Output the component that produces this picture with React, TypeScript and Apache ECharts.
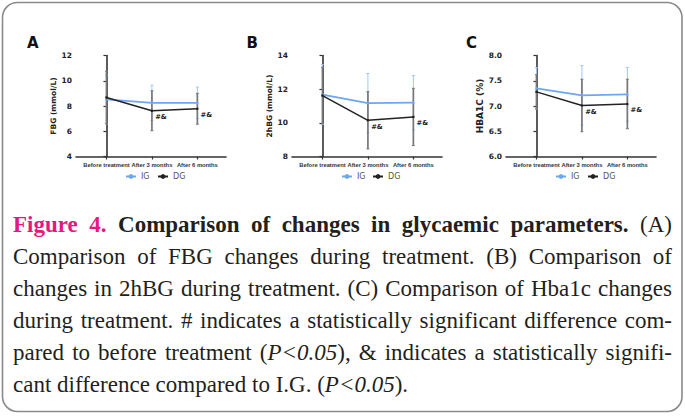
import React, { useEffect, useRef } from 'react';
import * as echarts from 'echarts';

// ---------- data ----------
const categories = ['Before treatment', 'After 3 months', 'After 6 months'];
const seriesNames = ['IG', 'DG'];
const panelLetters = ['A', 'B', 'C'];
const yNames = ['FBG (mmol/L)', '2hBG (mmol/L)', 'HBA1C (%)'];
const yMins = [4, 8, 6];
const yMaxs = [12, 14, 8];
const yIntervals = [2, 2, 0.5];
const yDecimals = [0, 0, 1];

// Panel A: FBG (mean, SD)
const fbgIG = [8.52, 8.25, 8.25];
const fbgIGsd = [1.93, 1.4, 1.24];
const fbgDG = [8.68, 7.62, 7.78];
const fbgDGsd = [2.08, 1.58, 1.22];

// Panel B: 2hBG
const hbgIG = [11.68, 11.17, 11.2];
const hbgIGsd = [1.77, 1.76, 1.61];
const hbgDG = [11.62, 10.15, 10.35];
const hbgDGsd = [1.68, 1.7, 1.7];

// Panel C: HbA1c
const hbaIG = [7.35, 7.21, 7.23];
const hbaIGsd = [0.41, 0.59, 0.53];
const hbaDG = [7.28, 7.01, 7.04];
const hbaDGsd = [0.34, 0.52, 0.49];

const sigMarks = ['', '#&', '#&'];

const captionLines: [string, string][][] = [
  [['Figure 4.', 'pink'], [' Comparison of changes in glycaemic parameters.', 'bold'], [' (A)', 'reg']],
  [['Comparison of FBG changes during treatment. (B) Comparison of', 'reg']],
  [['changes in 2hBG during treatment. (C) Comparison of Hba1c changes', 'reg']],
  [['during treatment. # indicates a statistically significant difference com-', 'reg']],
  [['pared to before treatment (', 'reg'], ['P<0.05', 'ital'], ['), & indicates a statistically signifi-', 'reg']],
  [['cant difference compared to I.G. (', 'reg'], ['P<0.05', 'ital'], [').', 'reg']],
];
const captionJustify = [true, true, true, true, true, false];

// ---------- layout / style ----------
const SANS = '"Liberation Sans", Arial, sans-serif';
const DEJA = '"DejaVu Sans", sans-serif';
const SERIF = '"Liberation Serif", "Times New Roman", serif';
const IG_COLOR = '#6ea7ee';
const IG_ERR = '#9fc5f2';
const DG_COLOR = '#222222';
const DG_ERR = '#777777';
const gridLefts = [76, 292, 506];
const gridTop = 55.5;
const gridHeight = 101;
const gridWidth = 150;
const legendLefts = [[125, 157], [341, 372], [555, 587]];
const letterX = [27, 246.5, 466];
const nameFont = [7.5, 7.5, 9];
const CAP_SIZE = 23;
const CAP_SCALE = 1.0;
const CAP_LEFT = 13;
const CAP_RIGHT = 672;
const CAP_BASE0 = 232;
const CAP_STEP = 32;

function capFont(s: string) {
  const bold = s === 'pink' || s === 'bold';
  const ital = s === 'ital';
  return { fontStyle: ital ? 'italic' : 'normal', fontWeight: bold ? 'bold' : 'normal' };
}

function buildCaption() {
  const ctx = document.createElement('canvas').getContext('2d')!;
  const measure = (t: string, s: string) => {
    const f = capFont(s);
    ctx.font = `${f.fontStyle} ${f.fontWeight} ${CAP_SIZE}px "Liberation Serif"`;
    return ctx.measureText(t).width * CAP_SCALE;
  };
  const els: any[] = [];
  captionLines.forEach((runs, li) => {
    const words: { t: string; s: string }[][] = [[]];
    runs.forEach(([t, s]) => {
      t.split(' ').forEach((p, k) => {
        if (k > 0) words.push([]);
        if (p) words[words.length - 1].push({ t: p, s });
      });
    });
    const ws = words.filter((w) => w.length > 0);
    const widths = ws.map((w) => w.reduce((a, p) => a + measure(p.t, p.s), 0));
    const total = widths.reduce((a, b) => a + b, 0);
    const gap = captionJustify[li] && ws.length > 1
      ? (CAP_RIGHT - CAP_LEFT - total) / (ws.length - 1)
      : measure(' ', 'reg');
    let x = CAP_LEFT;
    const y = CAP_BASE0 + li * CAP_STEP - 7.8;
    ws.forEach((w, wi) => {
      let px = x;
      w.forEach((p) => {
        const f = capFont(p.s);
        els.push({
          type: 'text',
          x: px,
          y,
          scaleX: CAP_SCALE,
          style: {
            text: p.t,
            fontFamily: SERIF,
            fontSize: CAP_SIZE,
            fontWeight: f.fontWeight,
            fontStyle: f.fontStyle,
            fill: p.s === 'pink' ? '#e8177f' : '#231f20',
            align: 'left',
            verticalAlign: 'middle',
          },
        });
        px += measure(p.t, p.s);
      });
      x += widths[wi] + gap;
    });
  });
  return els;
}

function errSeries(idx: number, means: number[], sds: number[], color: string, width: number, z: number) {
  return {
    type: 'custom',
    xAxisIndex: idx,
    yAxisIndex: idx,
    silent: true,
    z,
    data: means.map((m, i) => [i, m - sds[i], m + sds[i]]),
    encode: { x: 0, y: [1, 2] },
    renderItem: (params: any, api: any) => {
      const x = api.value(0);
      const lo = api.coord([x, api.value(1)]);
      const hi = api.coord([x, api.value(2)]);
      const cap = 1.5;
      return {
        type: 'group',
        children: [
          { type: 'line', shape: { x1: lo[0], y1: lo[1], x2: hi[0], y2: hi[1] }, style: { stroke: color, lineWidth: width } },
          { type: 'line', shape: { x1: hi[0] - cap, y1: hi[1], x2: hi[0] + cap, y2: hi[1] }, style: { stroke: color, lineWidth: 1 } },
          { type: 'line', shape: { x1: lo[0] - cap, y1: lo[1], x2: lo[0] + cap, y2: lo[1] }, style: { stroke: color, lineWidth: 1 } },
        ],
      };
    },
  };
}

function buildOption() {
  const panels = [
    { ig: fbgIG, igsd: fbgIGsd, dg: fbgDG, dgsd: fbgDGsd },
    { ig: hbgIG, igsd: hbgIGsd, dg: hbgDG, dgsd: hbgDGsd },
    { ig: hbaIG, igsd: hbaIGsd, dg: hbaDG, dgsd: hbaDGsd },
  ];
  const grid: any[] = [];
  const xAxis: any[] = [];
  const yAxis: any[] = [];
  const legend: any[] = [];
  const series: any[] = [];
  panels.forEach((p, i) => {
    grid.push({ left: gridLefts[i], top: gridTop, width: gridWidth, height: gridHeight, outerBoundsMode: 'none', containLabel: false });
    xAxis.push({
      type: 'value',
      gridIndex: i,
      min: -0.67,
      max: 2.63,
      splitLine: { show: false },
      axisLine: { show: true, lineStyle: { color: '#333', width: 1.6 } },
      axisTick: { show: true, customValues: [0, 1, 2], length: 3, lineStyle: { color: '#333', width: 1.2 } },
      axisLabel: {
        customValues: [0, 1, 2],
        formatter: (v: number) => categories[Math.round(v)] ?? '',
        fontFamily: SANS,
        fontSize: 5.8,
        fontWeight: 'bold',
        color: '#333',
        margin: 5,
      },
    });
    yAxis.push({
      type: 'value',
      gridIndex: i,
      min: yMins[i],
      max: yMaxs[i],
      interval: yIntervals[i],
      name: yNames[i],
      nameLocation: 'middle',
      nameGap: 19,
      nameTextStyle: { fontFamily: DEJA, fontSize: nameFont[i], fontWeight: 'bold', color: '#222' },
      splitLine: { show: false },
      axisLine: { show: true, lineStyle: { color: '#333', width: 1.6 } },
      axisTick: { show: true, length: 3, lineStyle: { color: '#333', width: 1.2 } },
      axisLabel: {
        formatter: (v: number) => v.toFixed(yDecimals[i]),
        fontFamily: DEJA,
        fontSize: 7.5,
        fontWeight: 'bold',
        color: '#222',
        margin: 4,
      },
    });
    seriesNames.forEach((nm, k) => {
      legend.push({
        left: legendLefts[i][k],
        top: 172.5,
        padding: 0,
        orient: 'horizontal',
        itemWidth: 10,
        itemHeight: 6,
        selectedMode: false,
        data: [nm],
        textStyle: { fontFamily: DEJA, fontSize: 8, color: '#555' },
      });
    });
    series.push(errSeries(i, p.ig, p.igsd, IG_ERR, 1, 2));
    series.push(errSeries(i, p.dg, p.dgsd, DG_ERR, 1.7, 3));
    series.push({
      type: 'line',
      name: seriesNames[0],
      xAxisIndex: i,
      yAxisIndex: i,
      data: p.ig.map((v, k) => [k, v]),
      symbol: 'circle',
      symbolSize: 2.5,
      lineStyle: { color: IG_COLOR, width: 1.8 },
      itemStyle: { color: IG_COLOR },
      z: 4,
    });
    series.push({
      type: 'line',
      name: seriesNames[1],
      xAxisIndex: i,
      yAxisIndex: i,
      data: p.dg.map((v, k) => [k, v]),
      symbol: 'circle',
      symbolSize: 2.5,
      lineStyle: { color: DG_COLOR, width: 1.5 },
      itemStyle: { color: DG_COLOR },
      z: 5,
      label: {
        show: true,
        formatter: (prm: any) => sigMarks[prm.dataIndex],
        position: 'right',
        distance: 2,
        offset: [0, 6.5],
        fontFamily: DEJA,
        fontSize: 6.8,
        fontWeight: 'bold',
        color: '#222',
      },
    });
  });

  const graphic: any[] = [
    {
      type: 'rect',
      shape: { x: 2.5, y: 2.5, width: 679.5, height: 409, r: 15 },
      style: { fill: 'none', stroke: '#8a8a8a', lineWidth: 1.6 },
      silent: true,
    },
    ...panelLetters.map((l, i) => ({
      type: 'text',
      x: letterX[i],
      y: 42.5,
      style: { text: l, fontFamily: DEJA, fontSize: 15, fontWeight: 'bold', fill: '#111', align: 'left', verticalAlign: 'middle' },
    })),
    ...buildCaption(),
  ];

  return {
    animation: false,
    backgroundColor: '#ffffff',
    grid,
    xAxis,
    yAxis,
    legend,
    series,
    graphic,
  };
}

export default function App() {
  const ref = useRef<HTMLDivElement>(null);
  useEffect(() => {
    document.body.style.margin = '0';
    const chart = echarts.init(ref.current!, null, { renderer: 'svg' });
    chart.setOption(buildOption() as any);
    return () => chart.dispose();
  }, []);
  return <div ref={ref} style={{ width: 685, height: 417 }} />;
}
